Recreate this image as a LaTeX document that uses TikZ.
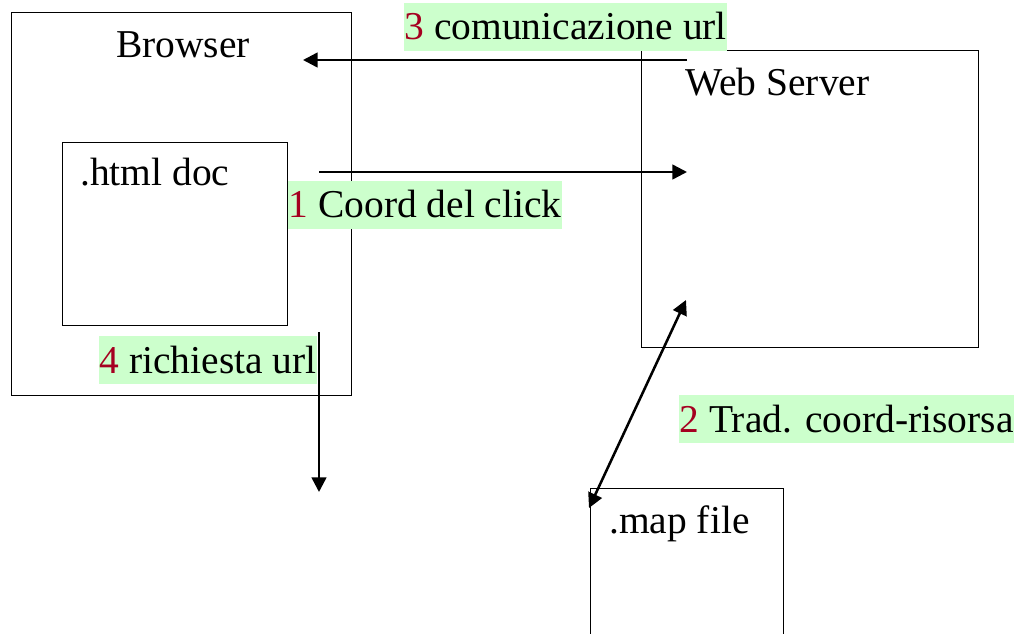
\documentclass[tikz,border=0pt]{standalone}
\usepackage{fontspec}
\setmainfont{Liberation Serif}
\usepackage{xcolor}
\usetikzlibrary{arrows.meta}

\definecolor{lblgreen}{RGB}{204,255,204}
\definecolor{numred}{RGB}{165,0,33}

\tikzset{
  txt/.style={anchor=base west, inner sep=0pt, font=\fontsize{29.6pt}{36pt}\selectfont},
  steplbl/.style={txt, fill=lblgreen, inner xsep=0.5pt, inner ysep=1pt, text height=26.4pt, text depth=7.6pt},
  flow/.style={line width=1.9pt, -{Triangle[length=11pt,width=11pt]}},
}

\begin{document}
\begin{tikzpicture}[x=0.75pt,y=0.75pt,yscale=-1,xscale=1]
\useasboundingbox (0,0) rectangle (1015,633);

%Shape: Rectangle (browser)
\draw [line width=0.75pt]  (11,12) -- (351,12) -- (351,395) -- (11,395) -- cycle ;
%Shape: Rectangle (html doc)
\draw [line width=0.75pt]  (62,142) -- (287,142) -- (287,325) -- (62,325) -- cycle ;
%Shape: Rectangle (web server)
\draw [line width=0.75pt]  (641,50) -- (978,50) -- (978,347) -- (641,347) -- cycle ;
%Shape: Rectangle (map file), cut at the bottom
\draw [line width=0.75pt]  (590,640) -- (590,488) -- (783,488) -- (783,640) ;

% Text Node
\node [txt] (browser) at (116,57) {Browser};
% Text Node
\node [txt] (htmldoc) at (80,185) {.html doc};
% Text Node
\node [txt] (webserver) at (685,95) {Web Server};
% Text Node
\node [txt] (mapfile) at (609,533) {.map file};

% Step labels
\node [steplbl] (lblthree) at (403.7,39.5) {\textcolor{numred}{3} comunicazione url};
\node [steplbl] (lblone) at (287.7,217.5) {\textcolor{numred}{1} Coord del click};
\node [steplbl] (lblfour) at (98.7,373) {\textcolor{numred}{4} richiesta url};
\node [steplbl] (lbltwo) at (678.7,432) {\textcolor{numred}{2} Trad. coord-risorsa};

% Arrow ends
\coordinate (cthreeA) at (687,60);
\coordinate (cthreeB) at (303,60);
\coordinate (coneA) at (319,172);
\coordinate (coneB) at (687,172);
\coordinate (cfourA) at (319,332);
\coordinate (cfourB) at (319,492);
\coordinate (ctwoA) at (589,508);
\coordinate (ctwoB) at (686,300);

%Straight Lines
\draw [flow] (cthreeA) -- (cthreeB) ;
\draw [flow] (coneA) -- (coneB) ;
\draw [flow] (cfourA) -- (cfourB) ;
\draw [flow, {Triangle[length=11pt,width=11pt]}-{Triangle[length=11pt,width=11pt]}] (ctwoA) -- (ctwoB) ;

\end{tikzpicture}
\end{document}
